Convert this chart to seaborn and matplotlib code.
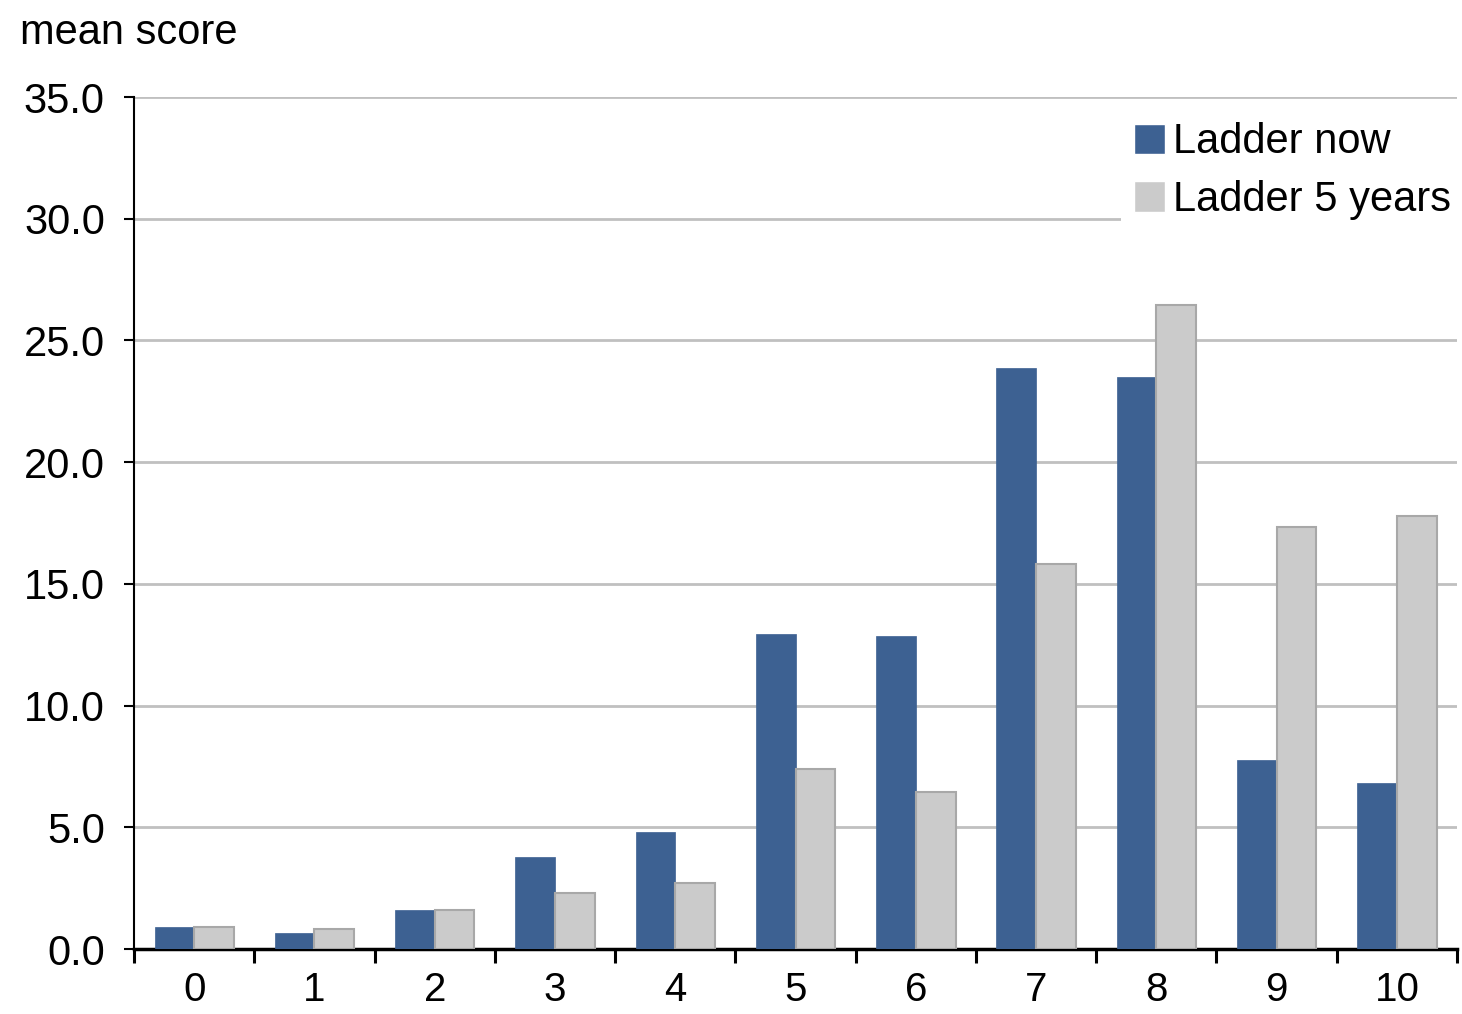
import pandas as pd
import seaborn as sns
import matplotlib.pyplot as plt
from matplotlib.ticker import FixedLocator

# values
categories = ['0', '1', '2', '3', '4', '5', '6', '7', '8', '9', '10']
ladder_now = [0.9, 0.66, 1.6, 3.8, 4.8, 12.95, 12.85, 23.85, 23.5, 7.75, 6.8]
ladder_5yrs = [0.9, 0.82, 1.6, 2.3, 2.7, 7.4, 6.45, 15.8, 26.45, 17.35, 17.8]
series = ['Ladder now', 'Ladder 5 years']
yticks = [0, 5, 10, 15, 20, 25, 30, 35]

df = pd.DataFrame({
    'score': categories * 2,
    'value': ladder_now + ladder_5yrs,
    'series': [series[0]] * len(categories) + [series[1]] * len(categories),
})

sns.set_style('white')
plt.rcParams['font.family'] = ['Liberation Sans', 'DejaVu Sans']
plt.rcParams['text.color'] = 'black'
plt.rcParams['xtick.labelcolor'] = 'black'
plt.rcParams['ytick.labelcolor'] = 'black'

fig = plt.figure(figsize=(14.62, 10.14), dpi=100)
ax = fig.add_axes([0.0917, 0.0641, 0.9049, 0.8402])

palette = {'Ladder now': '#3D6192', 'Ladder 5 years': '#CBCBCB'}
sns.barplot(data=df, x='score', y='value', hue='series', order=categories,
            hue_order=series, palette=palette, width=0.66, saturation=1,
            ax=ax, zorder=3)

# grey bars get a thin darker outline, blue ones none
for bar_container, name in zip(ax.containers, series):
    for p in bar_container:
        if name == 'Ladder 5 years':
            p.set_edgecolor('#A8A8A8')
            p.set_linewidth(1.5)
        else:
            p.set_edgecolor('#3D6192')
            p.set_linewidth(0.5)

ax.set_ylim(0, 35)
ax.set_xlim(-0.5, len(categories) - 0.5)
ax.set_yticks(yticks)
ax.set_yticklabels([f'{v:.1f}' for v in yticks])
ax.yaxis.grid(True, color='#C0C0C0', linewidth=2)
ax.set_axisbelow(True)
ax.set_xlabel('')
ax.set_ylabel('')

for s in ['top', 'right']:
    ax.spines[s].set_visible(False)
ax.spines['left'].set_color('black')
ax.spines['left'].set_linewidth(1.5)
ax.spines['bottom'].set_color('black')
ax.spines['bottom'].set_linewidth(2.5)

ax.tick_params(axis='y', which='major', direction='out', length=7, width=1.5,
               color='black', labelsize=30, pad=14, left=True)
ax.tick_params(axis='x', which='major', length=0, labelsize=29, pad=16)
ax.xaxis.set_minor_locator(FixedLocator([i - 0.5 for i in range(len(categories) + 1)]))
ax.tick_params(axis='x', which='minor', direction='out', length=10, width=2.2,
               color='black', bottom=True)

leg = ax.legend(loc='upper right', bbox_to_anchor=(1.005, 0.985), fontsize=30,
                frameon=True, facecolor='white', edgecolor='white', framealpha=1,
                handlelength=0.75, handleheight=0.75, handletextpad=0.2,
                labelspacing=0.42, borderpad=0.3, borderaxespad=0)
leg.get_frame().set_linewidth(0)

fig.text(20 / 1462, 1 - 33 / 1014, 'mean score', fontsize=30, va='center', ha='left')

fig.savefig('out.png', dpi=100)
